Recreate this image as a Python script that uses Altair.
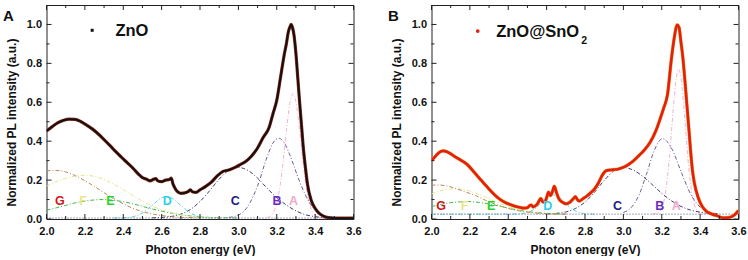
import altair as alt
import pandas as pd

# ---------------- Panel A: ZnO measured spectrum ----------------
ZNO_E = [2.00, 2.03, 2.06, 2.09, 2.12, 2.15, 2.18, 2.21, 2.24, 2.27, 2.30, 2.33, 2.36, 2.39,
         2.42, 2.45, 2.48, 2.50, 2.52, 2.54, 2.56, 2.57, 2.58, 2.60, 2.62, 2.64, 2.65, 2.66,
         2.67, 2.68, 2.70, 2.72, 2.74, 2.75, 2.76, 2.78, 2.80, 2.83, 2.86, 2.89, 2.92, 2.95,
         2.98, 3.01, 3.04, 3.07, 3.10, 3.13, 3.16, 3.18, 3.20, 3.22, 3.24, 3.25, 3.26, 3.27,
         3.275, 3.28, 3.29, 3.30, 3.31, 3.32, 3.33, 3.34, 3.35, 3.36, 3.38, 3.40, 3.42, 3.45,
         3.48, 3.52, 3.56, 3.60]
ZNO_I = [0.452, 0.475, 0.495, 0.508, 0.513, 0.512, 0.500, 0.482, 0.462, 0.437, 0.408, 0.378,
         0.347, 0.318, 0.290, 0.262, 0.230, 0.213, 0.205, 0.196, 0.205, 0.208, 0.196, 0.192,
         0.200, 0.203, 0.210, 0.178, 0.158, 0.143, 0.132, 0.134, 0.142, 0.150, 0.140, 0.137,
         0.150, 0.168, 0.190, 0.222, 0.245, 0.252, 0.264, 0.280, 0.297, 0.325, 0.365, 0.420,
         0.470, 0.540, 0.610, 0.730, 0.850, 0.900, 0.960, 0.990, 1.000, 0.990, 0.945, 0.850,
         0.720, 0.590, 0.470, 0.350, 0.260, 0.180, 0.095, 0.055, 0.030, 0.012, 0.006, 0.004,
         0.004, 0.005]

# ---------------- Panel B: ZnO@SnO2 measured spectrum ----------------
ZS_E = [2.00, 2.02, 2.04, 2.06, 2.08, 2.10, 2.12, 2.14, 2.16, 2.18, 2.20, 2.22, 2.24, 2.26,
        2.28, 2.30, 2.32, 2.34, 2.36, 2.38, 2.40, 2.42, 2.44, 2.46, 2.48, 2.50, 2.51, 2.52,
        2.53, 2.55, 2.57, 2.58, 2.59, 2.60, 2.61, 2.62, 2.63, 2.64, 2.65, 2.66, 2.67, 2.68,
        2.70, 2.72, 2.74, 2.75, 2.76, 2.77, 2.79, 2.81, 2.83, 2.85, 2.87, 2.89, 2.91, 2.93,
        2.95, 2.97, 2.99, 3.02, 3.05, 3.08, 3.11, 3.14, 3.17, 3.19, 3.21, 3.23, 3.25, 3.265,
        3.28, 3.29, 3.30, 3.31, 3.32, 3.33, 3.34, 3.35, 3.36, 3.37, 3.39, 3.41, 3.43, 3.46,
        3.49, 3.52, 3.55, 3.58, 3.60]
ZS_I = [0.300, 0.322, 0.342, 0.350, 0.346, 0.335, 0.322, 0.310, 0.298, 0.285, 0.266, 0.243,
        0.220, 0.198, 0.176, 0.154, 0.133, 0.114, 0.099, 0.087, 0.078, 0.071, 0.064, 0.060,
        0.056, 0.058, 0.068, 0.072, 0.062, 0.075, 0.105, 0.088, 0.085, 0.110, 0.138, 0.120,
        0.140, 0.168, 0.140, 0.112, 0.095, 0.088, 0.078, 0.085, 0.105, 0.115, 0.100, 0.092,
        0.105, 0.118, 0.135, 0.155, 0.185, 0.225, 0.248, 0.252, 0.254, 0.256, 0.262, 0.276,
        0.297, 0.325, 0.355, 0.395, 0.455, 0.510, 0.570, 0.640, 0.820, 0.930, 0.998, 0.985,
        0.910, 0.830, 0.720, 0.600, 0.480, 0.355, 0.250, 0.185, 0.110, 0.066, 0.042, 0.026,
        0.016, 0.006, 0.008, 0.022, 0.044]

# ---------------- fitted components, panel A ----------------
ZNO_A_E = [3.15, 3.17, 3.19, 3.21, 3.23, 3.25, 3.27, 3.285, 3.30, 3.32, 3.34, 3.36, 3.38, 3.40, 3.42, 3.45]
ZNO_A_I = [0.008, 0.018, 0.049, 0.125, 0.265, 0.45, 0.603, 0.645, 0.603, 0.45, 0.265, 0.125, 0.049, 0.018, 0.008, 0.005]
ZNO_B_E = [2.95, 3.00, 3.05, 3.10, 3.15, 3.18, 3.21, 3.24, 3.27, 3.32, 3.37, 3.42, 3.47]
ZNO_B_I = [0.008, 0.02, 0.066, 0.17, 0.32, 0.39, 0.415, 0.39, 0.325, 0.19, 0.085, 0.03, 0.01]
ZNO_C_E = [2.55, 2.60, 2.65, 2.70, 2.75, 2.80, 2.85, 2.90, 2.95, 2.995, 3.05, 3.10, 3.15, 3.20, 3.25, 3.30, 3.35, 3.40, 3.45]
ZNO_C_I = [0.006, 0.008, 0.013, 0.025, 0.049, 0.09, 0.145, 0.205, 0.25, 0.265, 0.25, 0.21, 0.158, 0.11, 0.072, 0.042, 0.022, 0.012, 0.007]
ZNO_D_E = [2.35, 2.40, 2.45, 2.50, 2.55, 2.60, 2.625, 2.65, 2.70, 2.75, 2.80, 2.85, 2.90]
ZNO_D_I = [0.005, 0.006, 0.012, 0.031, 0.07, 0.109, 0.115, 0.109, 0.07, 0.031, 0.012, 0.006, 0.005]
ZNO_EE_E = [2.00, 2.05, 2.10, 2.15, 2.20, 2.25, 2.29, 2.35, 2.40, 2.45, 2.50, 2.55, 2.60, 2.65, 2.70, 2.75, 2.80, 2.90, 3.00]
ZNO_EE_I = [0.045, 0.057, 0.07, 0.083, 0.092, 0.098, 0.1, 0.096, 0.089, 0.078, 0.065, 0.052, 0.04, 0.03, 0.022, 0.016, 0.011, 0.007, 0.005]
ZNO_F_E = [2.00, 2.05, 2.10, 2.15, 2.20, 2.25, 2.30, 2.35, 2.40, 2.45, 2.50, 2.55, 2.60, 2.65, 2.70, 2.75, 2.80, 2.90]
ZNO_F_I = [0.169, 0.191, 0.209, 0.221, 0.225, 0.219, 0.203, 0.179, 0.151, 0.121, 0.092, 0.067, 0.047, 0.032, 0.022, 0.015, 0.01, 0.006]
ZNO_G_E = [2.00, 2.04, 2.10, 2.15, 2.20, 2.25, 2.30, 2.35, 2.40, 2.45, 2.50, 2.55, 2.60, 2.65, 2.70, 2.80]
ZNO_G_I = [0.247, 0.25, 0.242, 0.223, 0.197, 0.167, 0.135, 0.105, 0.078, 0.055, 0.038, 0.026, 0.018, 0.012, 0.009, 0.006]
ZNO_BASE_E = [2.0, 3.6]
ZNO_BASE_I = [0.005, 0.005]

# ---------------- fitted components, panel B ----------------
ZS_A_E = [3.15, 3.18, 3.20, 3.22, 3.24, 3.26, 3.275, 3.288, 3.30, 3.32, 3.34, 3.36, 3.38, 3.40, 3.43]
ZS_A_I = [0.025, 0.031, 0.056, 0.138, 0.316, 0.566, 0.72, 0.77, 0.727, 0.515, 0.272, 0.115, 0.049, 0.03, 0.025]
ZS_B_E = [3.00, 3.04, 3.08, 3.12, 3.16, 3.204, 3.25, 3.30, 3.35, 3.40, 3.45, 3.50]
ZS_B_I = [0.034, 0.058, 0.12, 0.229, 0.35, 0.413, 0.366, 0.245, 0.129, 0.061, 0.034, 0.027]
ZS_C_E = [2.60, 2.65, 2.70, 2.75, 2.80, 2.85, 2.90, 2.95, 2.997, 3.05, 3.10, 3.15, 3.20, 3.25, 3.30, 3.35, 3.40, 3.45, 3.50]
ZS_C_I = [0.026, 0.029, 0.036, 0.054, 0.087, 0.138, 0.198, 0.247, 0.265, 0.252, 0.22, 0.177, 0.132, 0.094, 0.065, 0.046, 0.035, 0.029, 0.026]
ZS_D_E = [2.00, 2.40, 2.45, 2.50, 2.55, 2.60, 2.635, 2.67, 2.72, 2.77, 2.82, 2.85]
ZS_D_I = [0.025, 0.025, 0.026, 0.033, 0.061, 0.109, 0.124, 0.109, 0.061, 0.033, 0.026, 0.025]
ZS_EE_E = [2.00, 2.05, 2.10, 2.15, 2.18, 2.25, 2.30, 2.35, 2.40, 2.45, 2.50, 2.55, 2.60, 2.70]
ZS_EE_I = [0.064, 0.075, 0.084, 0.088, 0.09, 0.085, 0.077, 0.067, 0.056, 0.046, 0.038, 0.033, 0.029, 0.026]
ZS_F_E = [2.00, 2.05, 2.10, 2.12, 2.15, 2.20, 2.25, 2.30, 2.35, 2.40, 2.45, 2.50, 2.55, 2.60, 2.70]
ZS_F_I = [0.129, 0.146, 0.154, 0.155, 0.153, 0.143, 0.125, 0.104, 0.082, 0.064, 0.049, 0.039, 0.032, 0.028, 0.025]
ZS_G_E = [2.00, 2.03, 2.08, 2.13, 2.18, 2.23, 2.28, 2.33, 2.38, 2.43, 2.48, 2.53, 2.60, 2.70]
ZS_G_I = [0.173, 0.175, 0.17, 0.156, 0.138, 0.12, 0.097, 0.077, 0.06, 0.047, 0.038, 0.032, 0.027, 0.025]
ZS_BASE_E = [2.0, 3.6]
ZS_BASE_I = [0.025, 0.025]

# ---------------- labels ----------------
COMP_NAMES = ["A", "B", "C", "D", "E", "F", "G"]
ZNO_LABEL_E = [3.288, 3.202, 2.984, 2.629, 2.333, 2.19, 2.07]
ZNO_LABEL_I = [0.094, 0.094, 0.094, 0.094, 0.094, 0.094, 0.094]
ZS_LABEL_E = [3.275, 3.19, 2.97, 2.606, 2.311, 2.172, 2.05]
ZS_LABEL_I = [0.066, 0.066, 0.066, 0.066, 0.066, 0.066, 0.066]

X_MAJOR = [2.0, 2.2, 2.4, 2.6, 2.8, 3.0, 3.2, 3.4, 3.6]
X_MINOR = [2.1, 2.3, 2.5, 2.7, 2.9, 3.1, 3.3, 3.5]
Y_MAJOR = [0.0, 0.2, 0.4, 0.6, 0.8, 1.0]
Y_MINOR = [0.1, 0.3, 0.5, 0.7, 0.9]

# ---------------- styles ----------------
CURVE_COLORS = ["#f2b3cf", "#6e5c9c", "#3b3b78", "#54d4e4", "#3fb84a", "#e4e48a", "#b98a52"]
LABEL_COLORS = ["#f0a8c8", "#6a2cc0", "#1c1c84", "#2ad2ea", "#2ad22a", "#e6e68a", "#d01818"]
FONT = "Liberation Sans"
W, H = 307, 214
L_MAJ, L_MIN = 5, 3

x_scale = alt.Scale(domain=[2.0, 3.6], nice=False, zero=False)
y_scale = alt.Scale(domain=[0.0, 1.1], nice=False, zero=False)

x_axis = alt.Axis(values=X_MAJOR, format=".1f", title="Photon energy (eV)", ticks=False,
                  tickSize=0, domain=False, grid=False, labelFlush=False, labelFontSize=11,
                  labelFontWeight="bold", labelColor="#111", labelPadding=6, labelFont=FONT,
                  titleFont=FONT, titleFontSize=12, titleFontWeight="bold", titleColor="#111",
                  titlePadding=8)
y_axis = alt.Axis(values=Y_MAJOR, format=".1f", title="Normalized PL intensity (a.u.)",
                  ticks=False, tickSize=0, domain=False, grid=False, labelFlush=False,
                  labelFontSize=11, labelFontWeight="bold", labelColor="#111", labelPadding=5,
                  labelFont=FONT, titleFont=FONT, titleFontSize=12, titleFontWeight="bold",
                  titleColor="#111", titlePadding=8, titleY=117)

XENC = dict(scale=x_scale, axis=x_axis)
YENC = dict(scale=y_scale, axis=y_axis)


def line(E, I, color, width, dash=None):
    df = pd.DataFrame({"E": E, "I": I})
    kw = dict(color=color, strokeWidth=width, interpolate="monotone", clip=True)
    if dash:
        kw["strokeDash"] = dash
    return alt.Chart(df).mark_line(**kw).encode(
        x=alt.X("E:Q", **XENC), y=alt.Y("I:Q", **YENC))


def ticks(values, side, length):
    df = pd.DataFrame({"E": values, "I": values})
    m = alt.Chart(df).mark_rule(color="#222", strokeWidth=1)
    if side == "bottom":
        return m.encode(x=alt.X("E:Q", **XENC), y=alt.value(H), y2=alt.value(H - length))
    if side == "top":
        return m.encode(x=alt.X("E:Q", **XENC), y=alt.value(0), y2=alt.value(length))
    if side == "left":
        return m.encode(y=alt.Y("I:Q", **YENC), x=alt.value(0), x2=alt.value(length))
    return m.encode(y=alt.Y("I:Q", **YENC), x=alt.value(W), x2=alt.value(W - length))


def text(E, I, t, color, size, align="left"):
    df = pd.DataFrame({"E": E, "I": I, "t": t})
    return alt.Chart(df).mark_text(color=color, fontSize=size, fontWeight="bold", font=FONT,
                                   align=align, baseline="middle").encode(
        x=alt.X("E:Q", **XENC), y=alt.Y("I:Q", **YENC), text="t:N")


def panel(letter, comps, base, main_E, main_I, under_col, under_w, main_col, main_w,
          lab_E, lab_I, legend_layers):
    layers = []
    for (E, I), col in zip(comps, CURVE_COLORS):
        layers.append(line(E, I, col, 1.0, dash=[4, 2, 1, 2]))
    layers.append(line(base[0], base[1], "#55557a", 1.0, dash=[1, 2]))
    layers.append(line(main_E, main_I, under_col, under_w))
    layers.append(line(main_E, main_I, main_col, main_w))
    for e, i, n, c in zip(lab_E, lab_I, COMP_NAMES, LABEL_COLORS):
        layers.append(text([e], [i], [n], c, 12.5, align="center"))
    layers.extend(legend_layers)
    for side in ["bottom", "top"]:
        layers.append(ticks(X_MAJOR, side, L_MAJ))
        layers.append(ticks(X_MINOR, side, L_MIN))
    for side in ["left", "right"]:
        layers.append(ticks(Y_MAJOR, side, L_MAJ))
        layers.append(ticks(Y_MINOR, side, L_MIN))
    layers.append(
        alt.Chart(pd.DataFrame({"t": [letter]})).mark_text(
            fontSize=15, fontWeight="bold", font=FONT, align="left", baseline="middle", color="#111"
        ).encode(x=alt.value(-43.5), y=alt.value(11), text="t:N")
    )
    return alt.layer(*layers).properties(width=W, height=H)


legend_a = [
    alt.Chart(pd.DataFrame({"E": [2.238], "I": [0.97]})).mark_square(size=9, color="#111", opacity=1).encode(
        x=alt.X("E:Q", **XENC), y=alt.Y("I:Q", **YENC)),
    text([2.359], [0.967], ["ZnO"], "#111", 16.5),
]
legend_b = [
    alt.Chart(pd.DataFrame({"E": [2.241], "I": [0.966]})).mark_circle(size=14, color="#e3200f", opacity=1).encode(
        x=alt.X("E:Q", **XENC), y=alt.Y("I:Q", **YENC)),
    text([2.337], [0.962], ["ZnO@SnO"], "#111", 16.5),
    text([2.781], [0.915], ["2"], "#111", 10.5),
]

pa = panel("A",
           [(ZNO_A_E, ZNO_A_I), (ZNO_B_E, ZNO_B_I), (ZNO_C_E, ZNO_C_I), (ZNO_D_E, ZNO_D_I),
            (ZNO_EE_E, ZNO_EE_I), (ZNO_F_E, ZNO_F_I), (ZNO_G_E, ZNO_G_I)],
           (ZNO_BASE_E, ZNO_BASE_I), ZNO_E, ZNO_I, "#9a2a1a", 3.2, "#111111", 2.0,
           ZNO_LABEL_E, ZNO_LABEL_I, legend_a)
pb = panel("B",
           [(ZS_A_E, ZS_A_I), (ZS_B_E, ZS_B_I), (ZS_C_E, ZS_C_I), (ZS_D_E, ZS_D_I),
            (ZS_EE_E, ZS_EE_I), (ZS_F_E, ZS_F_I), (ZS_G_E, ZS_G_I)],
           (ZS_BASE_E, ZS_BASE_I), ZS_E, ZS_I, "#f0a030", 3.4, "#e3200f", 2.6,
           ZS_LABEL_E, ZS_LABEL_I, legend_b)

chart = alt.hconcat(pa, pb, spacing=78, bounds="flush").properties(
    padding={"left": 2.5, "top": 4, "right": 0, "bottom": 0}
).configure(font=FONT).configure_view(stroke="#222", strokeWidth=1)

chart.save("out.html", embed_options={"renderer": "svg", "actions": False})
